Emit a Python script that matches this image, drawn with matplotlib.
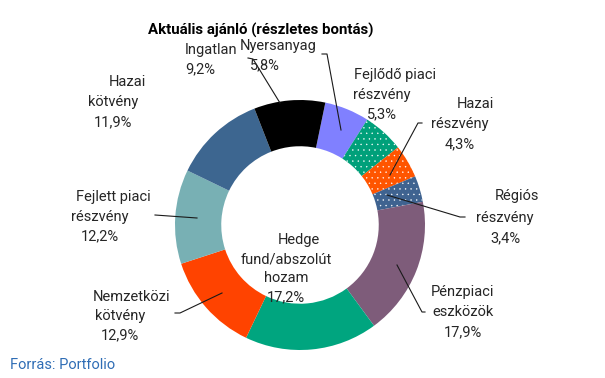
import matplotlib
matplotlib.use("Agg")
import matplotlib.pyplot as plt

plt.rcParams['font.family'] = ['Roboto', 'DejaVu Sans']
plt.rcParams['hatch.linewidth'] = 0.25

# ---- data ----
categories = ["Nyersanyag", "Fejlődő piaci részvény", "Hazai részvény", "Régiós részvény",
              "Pénzpiaci eszközök", "Hedge fund/abszolút hozam", "Nemzetközi kötvény",
              "Fejlett piaci részvény", "Hazai kötvény", "Ingatlan"]
values = [5.8, 5.3, 4.3, 3.4, 17.9, 17.2, 12.9, 12.2, 11.9, 9.2]
value_labels = ["5,8%", "5,3%", "4,3%", "3,4%", "17,9%", "17,2%", "12,9%", "12,2%", "11,9%", "9,2%"]

colors = ["#8080FF", "#00A07A", "#FF5500", "#3F6390", "#7E5C7A",
          "#00A57F", "#FF4300", "#78B0B4", "#3D6690", "#000000"]
hatches = [None, "...", "...", "...", None, None, None, None, None, None]

W, H = 605, 378
CX, CY, R = 300, 225, 125

fig = plt.figure(figsize=(W / 100, H / 100), dpi=100)
ax = fig.add_axes([0, 0, 1, 1])

wedges, _ = ax.pie(values, radius=1.0, startangle=90 - 11.7, counterclock=False,
                   colors=colors, wedgeprops=dict(width=0.37, linewidth=0),
                   center=(0, 0), frame=True)
ax.set_xlim(-CX / R, (W - CX) / R)
ax.set_ylim(-(H - CY) / R, CY / R)
ax.set_aspect('auto')
ax.axis('off')
for w, h in zip(wedges, hatches):
    if h:
        w.set_hatch(h)
        w.set_edgecolor('white')
        w.set_linewidth(0)

TXT = '#262626'
FS = 10.5

def fx(x):
    return x / W

def fy(y):
    return 1 - y / H

def label(lines, xs, ys, ha='center'):
    for t, x, y in zip(lines, xs, ys):
        fig.text(fx(x), fy(y), t, ha=ha, va='center', fontsize=FS, color=TXT)

def leader(pts):
    fig.add_artist(plt.Line2D([fx(p[0]) for p in pts], [fy(p[1]) for p in pts],
                              color='#1a1a1a', lw=0.8, transform=fig.transFigure))

# title
fig.text(fx(261), fy(30), "Aktuális ajánló (részletes bontás)", ha='center', va='center',
         fontsize=10.8, fontweight='bold', color='#000000')

# labels
label(["Ingatlan", value_labels[9]], [185, 185], [50, 69], ha='left')
leader([(248, 58), (253, 59), (280, 103)])

label(["Nyersanyag", value_labels[0]], [278, 265], [46, 65])
leader([(322, 54), (327, 54), (341, 130)])

label(["Fejlődő piaci", "részvény", value_labels[1]], [395, 382, 382], [75, 95, 114])

label(["Hazai", "részvény", value_labels[2]], [475, 460, 460], [104, 124, 144])
leader([(422, 123), (418, 123), (390, 175)])

label(["Régiós", "részvény", value_labels[3]], [517, 505, 505], [196, 218, 238])
leader([(387, 195), (460, 217), (465, 217)])

label(["Pénzpiaci", "eszközök", value_labels[4]], [463, 463, 463], [292, 312, 332])
leader([(397, 265), (422, 312), (425, 312)])

label(["Hedge", "fund/abszolút", "hozam", value_labels[5]], [299, 286, 286, 286],
      [240, 259, 278, 297])

label(["Nemzetközi", "kötvény", value_labels[6]], [132, 120, 120], [297, 316, 335])
leader([(222, 293), (180, 313), (175, 313)])

label(["Fejlett piaci", "részvény", value_labels[7]], [113, 100, 100], [197, 217, 236])
leader([(155, 215), (197, 218)])

label(["Hazai", "kötvény", value_labels[8]], [127, 113, 113], [82, 102, 122])

# source
fig.text(fx(10), fy(365), "Forrás: Portfolio", ha='left', va='center', fontsize=10.5,
         color='#2F6DB5')

fig.savefig("out.png", dpi=100)
